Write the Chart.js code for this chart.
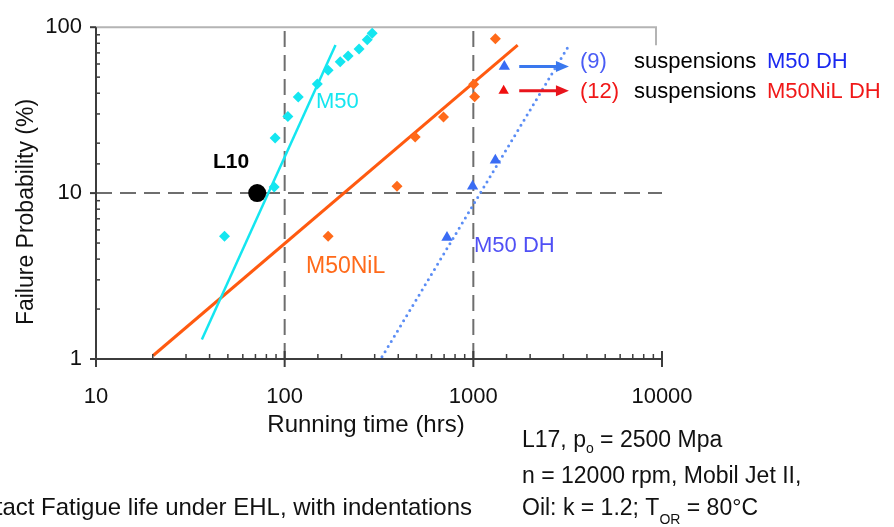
<!DOCTYPE html>
<html>
<head>
<meta charset="utf-8">
<title>Failure probability vs running time</title>
<script src="https://cdn.jsdelivr.net/npm/chart.js@4.4.1/dist/chart.umd.min.js"></script>
<style>
    html, body { margin: 0; padding: 0; background: #fff; }
    canvas { display: block; }
</style>
</head>
<body>
<canvas id="graficoWeibull" width="894" height="527"></canvas>
<script>
const FONT = '"Liberation Sans", Arial, Helvetica, sans-serif';

// M50 (cyan)
const m50Hours = [48, 88, 89, 104, 118, 149, 170, 197, 217, 248, 274, 291];
const m50Prob = [5.5, 10.9, 21.5, 29, 38, 45.5, 55, 62, 67, 74, 84, 92];
const m50FitHours = [36.4, 186];
const m50FitProb = [1.31, 78];

// M50NiL (orange)
const nilHours = [170, 394, 492, 695, 1004, 1016, 1309];
const nilProb = [5.5, 11, 21.8, 28.8, 45.3, 38.1, 85.3];
const nilFitHours = [20.1, 1718];
const nilFitProb = [1.05, 78];

// M50 DH (blue)
const dhHours = [725, 991, 1308, 1460];
const dhProb = [5.4, 11, 15.8, 58];
const dhFitHours = [328, 3240];
const dhFitProb = [1.03, 79];

// M50NiL DH (red, suspended)
const nilDhHours = [1448];
const nilDhProb = [41.4];

// L10 of M50
const l10Hours = [71.5];
const l10Prob = [10];

// suspension arrows, start / end in hours
const arrowHours = [1751, 3211];

const xTickLabels = [10, 100, 1000, 10000];
const yTickLabels = [1, 10, 100];
const refHours = [100, 1000];
const refProb = [10];

const pts = (xs, ys) => xs.map((x, i) => ({ x: x, y: ys[i] }));

function texto(ctx, str, x, y, size, color, opts) {
    opts = opts || {};
    ctx.font = (opts.bold ? 'bold ' : '') + size + 'px ' + FONT;
    ctx.fillStyle = color;
    ctx.textAlign = opts.align || 'left';
    ctx.textBaseline = 'alphabetic';
    ctx.fillText(str, x, y);
    return x + ctx.measureText(str).width;
}

function linha(ctx, x0, y0, x1, y1) {
    ctx.beginPath();
    ctx.moveTo(x0, y0);
    ctx.lineTo(x1, y1);
    ctx.stroke();
}

const decoracao = {
    id: 'decoracao',
    beforeDatasetsDraw(chart) {
        const { ctx, chartArea: a, scales: { x, y } } = chart;
        ctx.save();
        // light frame on top / right
        ctx.strokeStyle = '#b4b4b4';
        ctx.lineWidth = 2;
        ctx.beginPath();
        ctx.moveTo(a.left, a.top);
        ctx.lineTo(a.right - 6, a.top);
        ctx.lineTo(a.right - 6, a.top + 18);
        ctx.stroke();
        // dashed reference lines
        ctx.strokeStyle = '#6e6e6e';
        ctx.lineWidth = 2;
        ctx.setLineDash([16, 8]);
        refHours.forEach(h => {
            const px = x.getPixelForValue(h);
            linha(ctx, px, a.bottom, px, a.top);
        });
        refProb.forEach(p => {
            const py = y.getPixelForValue(p);
            linha(ctx, a.left, py, a.right, py);
        });
        ctx.restore();
    },
    afterDraw(chart) {
        const { ctx, chartArea: a, scales: { x, y } } = chart;
        ctx.save();

        // axes with log ticks
        ctx.strokeStyle = '#3c3c3c';
        ctx.lineWidth = 2;
        linha(ctx, a.left, a.top, a.left, a.bottom);
        linha(ctx, a.left - 6, a.bottom, a.right, a.bottom);
        y.ticks.forEach(t => {
            const py = y.getPixelForValue(t.value);
            if (yTickLabels.includes(t.value)) {
                ctx.lineWidth = 2;
                linha(ctx, a.left - 6, py, a.left, py);
            } else {
                ctx.lineWidth = 1.5;
                linha(ctx, a.left, py, a.left + 4, py);
            }
        });
        x.ticks.forEach(t => {
            const px = x.getPixelForValue(t.value);
            if (xTickLabels.includes(t.value)) {
                ctx.lineWidth = 2;
                linha(ctx, px, a.bottom - 8, px, a.bottom + 8);
            } else {
                ctx.lineWidth = 1.5;
                linha(ctx, px, a.bottom - 5, px, a.bottom);
            }
        });

        // suspension arrows
        [[dhProb[3], '#3a78ee'], [nilDhProb[0], '#e8141c']].forEach(([p, cor]) => {
            const py = y.getPixelForValue(p);
            const x0 = x.getPixelForValue(arrowHours[0]);
            const x1 = x.getPixelForValue(arrowHours[1]);
            ctx.strokeStyle = cor;
            ctx.fillStyle = cor;
            ctx.lineWidth = 3;
            linha(ctx, x0, py, x1 - 10, py);
            ctx.beginPath();
            ctx.moveTo(x1, py);
            ctx.lineTo(x1 - 13, py - 5.5);
            ctx.lineTo(x1 - 13, py + 5.5);
            ctx.closePath();
            ctx.fill();
        });

        // series labels
        texto(ctx, 'L10', 213, 168, 21, '#000', { bold: true });
        texto(ctx, 'M50', 316, 108, 22, '#14e6f0');
        texto(ctx, 'M50NiL', 306, 273, 23, '#ff6a1a');
        texto(ctx, 'M50 DH', 474, 252, 22, '#5050f5');

        texto(ctx, '(9)', 580, 68, 22, '#4a5cf5');
        texto(ctx, 'suspensions', 634, 68, 22, '#000');
        texto(ctx, 'M50 DH', 767, 68, 22, '#1a28f0');
        texto(ctx, '(12)', 580, 98, 22, '#f01818');
        texto(ctx, 'suspensions', 634, 98, 22, '#000');
        texto(ctx, 'M50NiL DH', 767, 98, 22, '#f01818');

        // axis titles
        texto(ctx, 'Running time (hrs)', 366, 432, 24, '#111', { align: 'center' });
        ctx.save();
        ctx.translate(33, 212);
        ctx.rotate(-Math.PI / 2);
        texto(ctx, 'Failure Probability (%)', 0, 0, 23, '#111', { align: 'center' });
        ctx.restore();

        // test conditions
        let cx = texto(ctx, 'L17, p', 522, 447, 23, '#111');
        cx = texto(ctx, 'o', cx, 453, 14, '#111');
        texto(ctx, ' = 2500 Mpa', cx, 447, 23, '#111');
        texto(ctx, 'n = 12000 rpm, Mobil Jet II,', 522, 483, 23, '#111');
        cx = texto(ctx, 'Oil: k = 1.2; T', 522, 515, 23, '#111');
        cx = texto(ctx, 'OR', cx, 524, 14, '#111');
        texto(ctx, ' = 80\u00b0C', cx, 515, 23, '#111');

        texto(ctx, 'Contact Fatigue life under EHL, with indentations', 472, 515, 24, '#111', { align: 'right' });

        ctx.restore();
    }
};

const ctxWeibull = document.getElementById('graficoWeibull');
new Chart(ctxWeibull, {
    type: 'scatter',
    data: {
        datasets: [
            {
                label: 'L10',
                data: pts(l10Hours, l10Prob),
                pointRadius: 9,
                backgroundColor: '#000',
                borderWidth: 0
            },
            {
                label: 'M50',
                data: pts(m50Hours, m50Prob),
                pointStyle: 'rectRot',
                pointRadius: 5.5,
                backgroundColor: '#14e6f0',
                borderWidth: 0
            },
            {
                label: 'M50NiL',
                data: pts(nilHours, nilProb),
                pointStyle: 'rectRot',
                pointRadius: 5.5,
                backgroundColor: '#ff6a1a',
                borderWidth: 0
            },
            {
                label: 'M50 DH',
                data: pts(dhHours, dhProb),
                pointStyle: 'triangle',
                pointRadius: 6.5,
                backgroundColor: '#3a6cf4',
                borderWidth: 0
            },
            {
                label: 'M50NiL DH',
                data: pts(nilDhHours, nilDhProb),
                pointStyle: 'triangle',
                pointRadius: 6,
                backgroundColor: '#f01010',
                borderWidth: 0
            },
            {
                label: 'M50 fit',
                data: pts(m50FitHours, m50FitProb),
                showLine: true,
                pointRadius: 0,
                borderColor: '#14e6f0',
                borderWidth: 2.5
            },
            {
                label: 'M50NiL fit',
                data: pts(nilFitHours, nilFitProb),
                showLine: true,
                pointRadius: 0,
                borderColor: '#ff5a10',
                borderWidth: 3
            },
            {
                label: 'M50 DH fit',
                data: pts(dhFitHours, dhFitProb),
                showLine: true,
                pointRadius: 0,
                borderColor: '#5b8df5',
                borderWidth: 3,
                borderDash: [0, 6],
                borderCapStyle: 'round'
            }
        ]
    },
    options: {
        responsive: false,
        animation: false,
        events: [],
        layout: {
            padding: { left: 0, right: 232, top: 20, bottom: 0 }
        },
        plugins: {
            legend: { display: false },
            tooltip: { enabled: false }
        },
        scales: {
            x: {
                type: 'logarithmic',
                min: 10,
                max: 10000,
                border: { display: false },
                grid: { display: false, drawTicks: false },
                ticks: {
                    autoSkip: false,
                    maxRotation: 0,
                    padding: 25,
                    color: '#111',
                    font: { family: FONT, size: 22 },
                    callback: v => xTickLabels.includes(v) ? String(v) : ''
                },
                afterFit: s => { s.height = 168; }
            },
            y: {
                type: 'logarithmic',
                min: 1,
                max: 100,
                border: { display: false },
                grid: { display: false, drawTicks: false },
                ticks: {
                    autoSkip: false,
                    padding: 14,
                    color: '#111',
                    font: { family: FONT, size: 22 },
                    callback: v => yTickLabels.includes(v) ? String(v) : ''
                },
                afterFit: s => { s.width = 96; }
            }
        }
    },
    plugins: [decoracao]
});
</script>
</body>
</html>
